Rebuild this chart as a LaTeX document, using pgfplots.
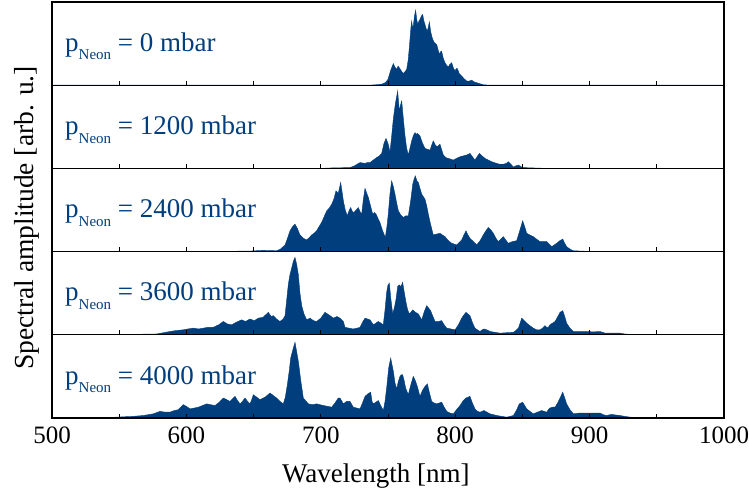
\documentclass[border=0pt]{standalone}
\usepackage{pgfplots}
\pgfplotsset{compat=1.18}
\usepackage{fontspec}
\setmainfont{Liberation Serif}
\definecolor{nb}{RGB}{0,62,126}

% label inside each panel: p_Neon = ... mbar
\newcommand\plabel[1]{\fontsize{27bp}{30bp}\selectfont\color{nb}p\raisebox{-8.7bp}{\fontsize{15bp}{15bp}\selectfont Neon} = #1 mbar}

\pgfplotsset{
  panel/.style={
    width=672bp, height=83.2bp, scale only axis,
    xmin=500, xmax=1000, ymin=0, ymax=1,
    xtick={500,600,...,1000}, minor xtick={550,650,...,950},
    xticklabels={}, ytick=\empty,
    xtick pos=left, tick align=inside,
    major tick length=4.5bp, minor tick length=4.5bp,
    every tick/.style={black, line width=1bp},
    axis line style={line width=1.2bp},
    axis on top,
  },
  spec/.style={fill=nb, draw=nb, line width=0.4bp},
}

\begin{document}
\begin{tikzpicture}
\path[use as bounding box] (-52bp,-72bp) rectangle (697bp,418bp);

% 0 mbar
\begin{axis}[panel, at={(0,332.8bp)}]
\addplot[spec] coordinates {(500,0)(735,0)(739,0.003)(745,0.01)(748,0.03)(750,0.07)(752,0.18)(754,0.26)(755,0.22)(756.5,0.19)(757.5,0.23)(758.4,0.21)(760,0.17)(761.4,0.14)(763,0.17)(763.9,0.19)(765,0.3)(765.9,0.46)(767,0.68)(767.6,0.77)(768.2,0.7)(768.8,0.71)(769.8,0.84)(770.6,0.9)(771.3,0.8)(772.1,0.73)(773,0.77)(773.8,0.79)(774.8,0.83)(775.8,0.85)(776.6,0.78)(777.5,0.73)(778.4,0.68)(779.3,0.65)(780,0.7)(780.8,0.76)(781.6,0.66)(782.5,0.59)(783.3,0.55)(784.2,0.52)(785.2,0.5)(786.2,0.49)(787.2,0.43)(788.2,0.37)(789,0.4)(789.9,0.41)(791,0.33)(792.4,0.27)(793.6,0.24)(794.9,0.22)(796,0.25)(797.4,0.27)(798.6,0.21)(799.9,0.17)(800.8,0.2)(801.6,0.2)(803,0.14)(804.8,0.11)(806.5,0.08)(808.5,0.05)(810.5,0.05)(812.3,0.06)(814,0.04)(816,0.03)(818,0.02)(820.9,0.005)(825.9,0)(1000,0)} \closedcycle;
\node[anchor=base west, inner sep=0pt] at ([xshift=13bp,yshift=34bp]rel axis cs:0,0) {\plabel{0}};
\end{axis}

% 1200 mbar
\begin{axis}[panel, at={(0,249.6bp)}]
\addplot[spec] coordinates {(500,0)(700,0)(706.8,0.005)(721.7,0.01)(725,0.03)(727,0.05)(729.2,0.07)(731,0.065)(732.9,0.06)(734.5,0.07)(736.6,0.07)(739,0.1)(741.6,0.13)(743.5,0.15)(745.3,0.18)(747,0.3)(748.5,0.36)(750,0.3)(751.5,0.2)(752.5,0.35)(754,0.6)(755.5,0.78)(757.2,0.93)(758.4,0.69)(759.3,0.76)(760.2,0.81)(761.4,0.6)(762.6,0.4)(763.8,0.25)(765.1,0.16)(766.3,0.24)(767.6,0.33)(769,0.4)(770.1,0.43)(771,0.41)(772,0.42)(773.8,0.39)(775.5,0.31)(777.5,0.24)(779.3,0.23)(781.3,0.22)(782.5,0.28)(783.7,0.33)(785.2,0.28)(786.7,0.26)(788.7,0.29)(790,0.22)(791.2,0.16)(793,0.13)(794.9,0.12)(796.8,0.11)(798.6,0.1)(801,0.12)(803.6,0.14)(806,0.15)(808.5,0.16)(811,0.18)(812.8,0.14)(814.7,0.1)(816.3,0.14)(818,0.18)(820,0.15)(822.2,0.12)(824.6,0.1)(827.1,0.08)(829,0.07)(830.9,0.06)(833,0.05)(835.8,0.05)(838,0.06)(839.5,0.08)(841.5,0.05)(843.3,0.015)(845,0.03)(847,0.04)(849,0.02)(850.7,0.01)(855,0.007)(863,0.003)(868,0)(1000,0)} \closedcycle;
\node[anchor=base west, inner sep=0pt] at ([xshift=13bp,yshift=34bp]rel axis cs:0,0) {\plabel{1200}};
\end{axis}

% 2400 mbar
\begin{axis}[panel, at={(0,166.4bp)}]
\addplot[spec] coordinates {(500,0)(625,0)(632,0.004)(647,0.006)(657,0.015)(662,0.012)(667,0.01)(670,0.03)(673.4,0.08)(675,0.15)(677.1,0.25)(679,0.3)(680.8,0.33)(682.5,0.28)(684.5,0.2)(687,0.16)(689.5,0.14)(691.5,0.17)(693.2,0.2)(695,0.22)(696.9,0.25)(698.7,0.3)(700.6,0.35)(702.5,0.42)(704.4,0.49)(706.2,0.52)(708.1,0.57)(709.7,0.63)(711.3,0.73)(713,0.7)(714.8,0.83)(715.8,0.72)(716.8,0.61)(718.2,0.5)(719.7,0.43)(721,0.49)(722.2,0.53)(723.5,0.48)(724.7,0.47)(726.3,0.5)(727.9,0.53)(729.2,0.48)(730.4,0.45)(731.6,0.62)(732.9,0.76)(734.2,0.7)(735.4,0.65)(737,0.55)(738.6,0.45)(739.8,0.47)(741.1,0.45)(742.5,0.4)(744,0.35)(746,0.25)(748,0.17)(749.2,0.3)(750.2,0.45)(751.5,0.7)(752.7,0.85)(754,0.78)(755.2,0.69)(756.5,0.58)(757.7,0.49)(759.5,0.44)(761.4,0.41)(763.3,0.43)(765.1,0.43)(766.8,0.6)(768.4,0.81)(769.4,0.87)(770.3,0.91)(771.5,0.85)(772.6,0.83)(773.8,0.76)(775.1,0.69)(776.3,0.66)(777.5,0.63)(778.8,0.55)(780,0.45)(781.8,0.32)(783.7,0.2)(786,0.21)(788.7,0.22)(790.5,0.2)(792.4,0.18)(795,0.13)(797.4,0.1)(799.3,0.09)(801.1,0.08)(803,0.11)(804.8,0.14)(806.5,0.2)(808,0.25)(809.5,0.2)(811,0.16)(813.5,0.12)(816,0.08)(818.5,0.13)(820.9,0.2)(822.8,0.25)(824.7,0.29)(826.5,0.26)(828.4,0.22)(830.3,0.16)(832.1,0.12)(834,0.15)(835.8,0.18)(837.6,0.14)(839.5,0.1)(842.5,0.12)(845.7,0.13)(848,0.25)(850.2,0.37)(851.7,0.3)(853.2,0.22)(855.5,0.2)(858.1,0.18)(860.5,0.15)(863.1,0.12)(865.5,0.12)(868.1,0.12)(870,0.09)(871.8,0.06)(873.7,0.08)(875.5,0.1)(877.8,0.13)(880,0.15)(881.5,0.1)(882.9,0.06)(885.4,0.03)(887.9,0.01)(895.3,0.005)(900.3,0.003)(905,0)(1000,0)} \closedcycle;
\node[anchor=base west, inner sep=0pt] at ([xshift=13bp,yshift=34bp]rel axis cs:0,0) {\plabel{2400}};
\end{axis}

% 3600 mbar
\begin{axis}[panel, at={(0,83.2bp)}]
\addplot[spec] coordinates {(500,0)(540,0)(548,0.002)(560.5,0.005)(570,0.008)(577.9,0.01)(583,0.025)(587.8,0.04)(592,0.05)(597.7,0.06)(601,0.07)(605.2,0.08)(609,0.07)(612.6,0.08)(616,0.09)(620,0.09)(624,0.12)(627.5,0.16)(630.5,0.13)(633.7,0.12)(637,0.15)(641.1,0.18)(644,0.16)(647.3,0.19)(650.5,0.17)(653.5,0.2)(657,0.21)(661,0.27)(663,0.22)(664.7,0.23)(667,0.19)(669.6,0.16)(672,0.19)(673.4,0.23)(674.5,0.4)(675.8,0.6)(677,0.72)(678.3,0.8)(679.5,0.88)(680.8,0.93)(682,0.85)(683.3,0.72)(684.5,0.5)(685.8,0.35)(687.5,0.25)(689.5,0.18)(692,0.2)(694.5,0.17)(696.9,0.16)(700,0.2)(703.1,0.27)(706,0.24)(709.3,0.2)(712,0.22)(714.3,0.2)(716.8,0.16)(718,0.09)(721,0.08)(724.2,0.07)(727,0.08)(729.2,0.09)(731,0.15)(732.9,0.2)(734.8,0.19)(736.6,0.18)(739.1,0.12)(741,0.14)(742.8,0.16)(744.8,0.14)(746.5,0.12)(747.8,0.3)(749,0.51)(750,0.6)(751,0.62)(752,0.45)(753.5,0.25)(754.8,0.33)(756,0.43)(757.2,0.58)(758.4,0.6)(759.6,0.58)(760.9,0.63)(762,0.52)(763.4,0.39)(764.6,0.3)(765.9,0.25)(767,0.27)(768.4,0.3)(770.5,0.27)(772.6,0.25)(774,0.21)(775.1,0.18)(777,0.28)(778.8,0.35)(780.3,0.32)(781.7,0.29)(783.4,0.22)(785,0.16)(787.5,0.16)(789.9,0.17)(791.8,0.12)(793.7,0.08)(796.8,0.07)(799.9,0.06)(802.4,0.12)(804.8,0.2)(806.5,0.24)(808,0.27)(809.5,0.25)(811,0.23)(813,0.14)(814.7,0.08)(816.5,0.06)(818.5,0.04)(820,0.06)(821.4,0.07)(823.5,0.06)(825.9,0.04)(829.6,0.03)(833.3,0.02)(838,0.025)(843.3,0.03)(845,0.05)(847,0.08)(848.3,0.14)(849.5,0.2)(851.3,0.17)(853.2,0.14)(855.6,0.11)(858.1,0.08)(860.6,0.06)(863.1,0.06)(865,0.08)(866.8,0.11)(868,0.09)(869.3,0.09)(870.5,0.12)(872.4,0.14)(874.3,0.16)(876,0.21)(878,0.27)(880,0.29)(881.5,0.22)(882.9,0.14)(885.4,0.08)(887.9,0.04)(892.8,0.04)(897.8,0.04)(902.8,0.035)(907.7,0.04)(911.5,0.02)(917.7,0.02)(922.6,0.02)(926,0.01)(930.1,0.005)(937.5,0)(1000,0)} \closedcycle;
\node[anchor=base west, inner sep=0pt] at ([xshift=13bp,yshift=34bp]rel axis cs:0,0) {\plabel{3600}};
\end{axis}

% 4000 mbar
\begin{axis}[panel, at={(0,0)},
  xticklabels={500,600,700,800,900,1000},
  xticklabel style={font=\fontsize{25bp}{25bp}\selectfont, anchor=base, yshift=-25bp},
  xlabel={Wavelength [nm]},
  xlabel style={font=\fontsize{27bp}{30bp}\selectfont, at={(axis description cs:0.482,0)}, anchor=base, yshift=-64bp},
]
\addplot[spec] coordinates {(500,0)(505,0)(510.9,0.002)(525,0.004)(535.7,0.005)(548,0.01)(560.5,0.02)(568,0.03)(575.4,0.05)(580.4,0.08)(584,0.07)(587.8,0.07)(591,0.09)(594,0.1)(597.7,0.16)(600,0.14)(602.7,0.11)(605.8,0.12)(608.9,0.13)(612,0.15)(615.1,0.17)(618,0.16)(621.3,0.15)(624.5,0.19)(627.5,0.24)(630,0.22)(632.4,0.2)(634.3,0.23)(636.2,0.26)(638,0.21)(639.9,0.17)(641.7,0.2)(643.6,0.24)(645.5,0.2)(647.3,0.17)(648.6,0.22)(649.8,0.28)(652.3,0.25)(654.8,0.22)(658.5,0.25)(662.2,0.3)(664.7,0.27)(667.2,0.24)(669.6,0.2)(672.1,0.17)(673.6,0.25)(675.1,0.4)(676.4,0.55)(677.6,0.72)(679.2,0.82)(680.8,0.91)(682,0.8)(683.3,0.68)(685.1,0.45)(687,0.24)(690.7,0.17)(693.8,0.16)(696.9,0.17)(699.4,0.16)(701.9,0.15)(705,0.14)(708.1,0.13)(710.5,0.18)(713,0.24)(714.3,0.24)(716.8,0.17)(719.2,0.2)(721.7,0.2)(724.2,0.13)(726.7,0.12)(729.2,0.11)(731,0.18)(732.9,0.26)(735,0.29)(737.1,0.31)(738.1,0.2)(739.1,0.17)(741,0.19)(742.8,0.21)(744.6,0.15)(746.5,0.09)(747.8,0.2)(749,0.36)(750.5,0.6)(752,0.72)(753,0.64)(754,0.56)(755.2,0.42)(756.5,0.35)(757.7,0.44)(758.9,0.5)(760,0.52)(760.9,0.52)(762,0.45)(763.1,0.36)(765.1,0.28)(767,0.4)(768.8,0.5)(770.3,0.45)(771.8,0.38)(773.8,0.26)(775.6,0.33)(777.5,0.38)(779.3,0.41)(780.9,0.3)(782.5,0.2)(784.3,0.18)(786.2,0.17)(788,0.18)(789.9,0.19)(791.8,0.13)(793.7,0.08)(796,0.06)(798.6,0.05)(801,0.1)(803.6,0.15)(806,0.21)(808,0.24)(809.5,0.25)(811,0.26)(812.8,0.18)(814.7,0.11)(816.5,0.08)(818.5,0.07)(820,0.08)(821.4,0.09)(823.6,0.07)(825.9,0.05)(828.4,0.04)(830.9,0.03)(834.6,0.02)(838.3,0.01)(840.8,0.02)(843.3,0.03)(845.5,0.09)(847.7,0.17)(849,0.18)(850.2,0.19)(851.7,0.15)(853.2,0.11)(855.6,0.08)(858.1,0.05)(861.2,0.07)(864.3,0.09)(866.2,0.08)(868.1,0.07)(869.3,0.1)(870.5,0.12)(872.4,0.13)(874.3,0.13)(876.2,0.18)(878,0.24)(880,0.31)(881.5,0.24)(882.9,0.17)(885.4,0.1)(887.9,0.05)(892.8,0.06)(897.8,0.06)(902.8,0.06)(907.7,0.06)(910.2,0.04)(912.7,0.03)(915.2,0.04)(917.7,0.04)(920,0.035)(922.6,0.03)(926,0.02)(930.1,0.01)(937,0.006)(944.9,0.003)(952.4,0)(1000,0)} \closedcycle;
\node[anchor=base west, inner sep=0pt] at ([xshift=13bp,yshift=34bp]rel axis cs:0,0) {\plabel{4000}};
\end{axis}

% shared y label
\node[rotate=90, anchor=base, inner sep=0pt, font=\fontsize{27.5bp}{30bp}\selectfont] at (-19bp,200bp) {Spectral amplitude [arb. u.]};
\end{tikzpicture}
\end{document}
